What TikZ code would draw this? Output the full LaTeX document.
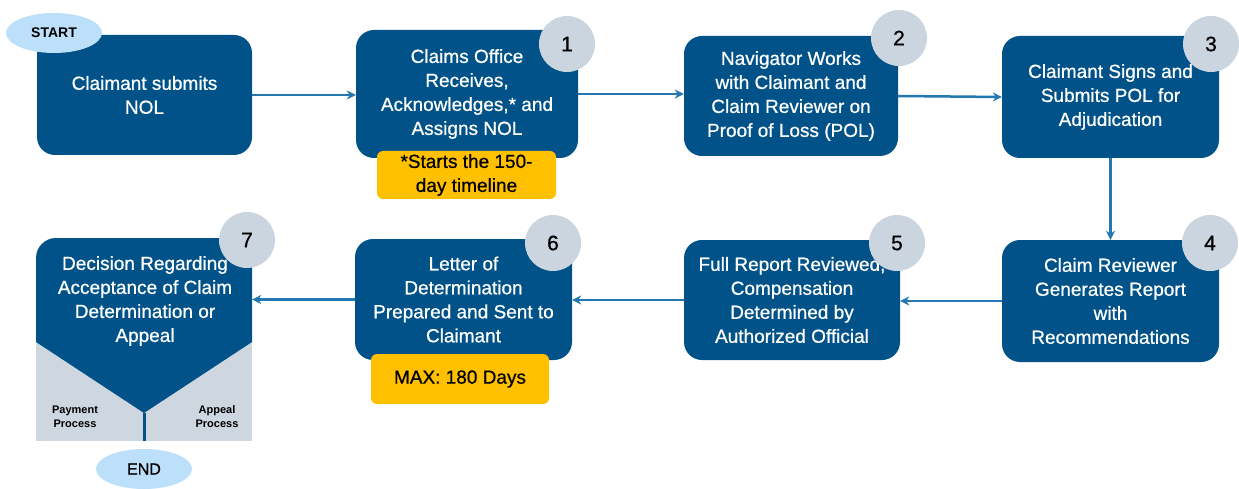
\documentclass[tikz,border=0pt]{standalone}
\usepackage{fontspec}
\setmainfont{Liberation Sans}
\newfontfamily\semib{Liberation Sans}[FakeBold=0.7]
\usetikzlibrary{arrows.meta,shapes.geometric}
\definecolor{dblue}{RGB}{0,82,136}
\definecolor{arrowblue}{RGB}{36,120,178}
\definecolor{numgray}{RGB}{203,213,224}
\definecolor{lgray}{RGB}{206,214,224}
\definecolor{lblue}{RGB}{189,224,250}
\definecolor{gold}{RGB}{255,192,0}
\begin{document}
\begin{tikzpicture}[x=1pt,y=-1pt,
 box/.style={fill=dblue, rounded corners=18pt, text=white, align=center, inner sep=0pt, font=\semib\fontsize{19}{24}\selectfont},
 wtext/.style={text=white, align=center, inner sep=0pt, font=\semib\fontsize{19}{24}\selectfont},
 num/.style={circle, fill=numgray, minimum size=56pt, inner sep=0pt, font=\semib\fontsize{21}{21}\selectfont},
 note/.style={fill=gold, rounded corners=6pt, align=center, inner sep=0pt, font=\semib\fontsize{19}{24}\selectfont},
 oval/.style={ellipse, fill=lblue, inner sep=0pt, minimum width=96pt, minimum height=40pt},
 small/.style={align=center, inner sep=0pt, font=\bfseries\fontsize{11}{14}\selectfont},
 arr/.style={draw=arrowblue, line width=2.5pt, -{Stealth[length=9pt,width=9pt]}}
]
\useasboundingbox (0,0) rectangle (1239,489);
\fill[white] (0,0) rectangle (1239,489);

% boxes
\node[box, minimum width=215pt, minimum height=120pt] (b0) at (144.5,95) {Claimant submits\\NOL};
\node[box, minimum width=222pt, minimum height=128pt] (b1) at (467,94) {Claims Office\\Receives,\\Acknowledges,* and\\Assigns NOL};
\node[box, minimum width=214pt, minimum height=120pt] (b2) at (791,96) {Navigator Works\\with Claimant and\\Claim Reviewer on\\Proof of Loss (POL)};
\node[box, minimum width=217pt, minimum height=122pt] (b3) at (1110.5,97) {Claimant Signs and\\Submits POL for\\Adjudication};
\node[box, minimum width=217pt, minimum height=122pt] (b4) at (1110.5,301) {Claim Reviewer\\Generates Report\\with\\Recommendations};
\node[box, minimum width=216pt, minimum height=120pt] (b5) at (792,300) {Full Report Reviewed,\\Compensation\\Determined by\\Authorized Official};
\node[box, minimum width=217pt, minimum height=121pt] (b6) at (463.5,299.5) {Letter of\\Determination\\Prepared and Sent to\\Claimant};

% box 7
\node[minimum width=216pt, minimum height=203pt, inner sep=0pt] (b7) at (144,339.5) {};
\fill[lgray] (b7.south west) rectangle (252,320);
\fill[dblue] (36,342) [rounded corners=20pt]-- (36,238) -- (252,238) [sharp corners]-- (252,342) -- (144,413) -- cycle;
\coordinate (v7) at (144,413);
\draw[dblue, line width=3pt] (v7) -- (b7.south);
\node[wtext] (t7) at (145,301) {Decision Regarding\\Acceptance of Claim\\Determination or\\Appeal};
\node[small] (pay) at (75,417) {Payment\\Process};
\node[small] (app) at (217,417) {Appeal\\Process};

% notes
\node[note, minimum width=179pt, minimum height=48pt] (y1) at (466.5,175) {*Starts the 150-\\day timeline};
\node[note, minimum width=178pt, minimum height=50pt] (y6) at (460,379) {MAX: 180 Days};

% number circles
\node[num] (c1) at (567,44) {1};
\node[num] (c2) at (899,38) {2};
\node[num] (c3) at (1211,44) {3};
\node[num] (c4) at (1210,243) {4};
\node[num] (c5) at (897,243) {5};
\node[num] (c6) at (553,243) {6};
\node[num] (c7) at (247,240) {7};

% start / end
\node[oval, font=\bfseries\fontsize{14}{14}\selectfont] (start) at (54,33) {START};
\node[oval, font=\semib\fontsize{16}{16}\selectfont] (end) at (144,469) {END};

% arrows
\draw[arr] (b0.east) -- (b0.east -| b1.west);
\draw[arr] (b1.east) -- (b1.east -| b2.west);
\draw[arr] (b2.east) -- (b3.west);
\draw[arr] (b3.south) -- (b4.north);
\draw[arr] (b4.west) -- (b4.west -| b5.east);
\draw[arr] (b5.west) -- (b5.west -| b6.east);
\draw[arr] (b6.west) -- (b6.west -| b7.east);
\end{tikzpicture}
\end{document}
